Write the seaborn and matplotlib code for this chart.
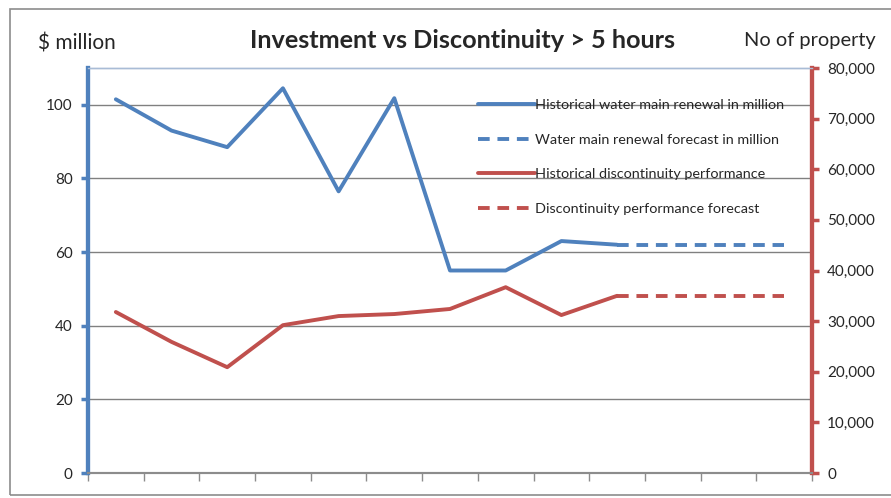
import matplotlib
matplotlib.use("Agg")
import matplotlib.pyplot as plt
import seaborn as sns
import numpy as np
from matplotlib.patches import Rectangle

# ----------------------------------------
# Data
# ----------------------------------------
years = list(range(13))                      # 13 unlabeled categories
hist_x = years[:10]
fcst_x = years[9:]

water_hist = [101.5, 93, 88.5, 104.5, 76.5, 101.8, 55, 55, 63, 62]
water_fcst = [62, 62, 62, 62]

disc_hist = [31800, 25900, 20900, 29200, 31000, 31400, 32400, 36700, 31200, 35000]
disc_fcst = [35000, 35000, 35000, 35000]

left_ticks = [0, 20, 40, 60, 80, 100]
right_ticks = list(range(0, 80001, 10000))

BLUE = "#4F81BD"
RED = "#C0504D"

sns.set_style("white")
plt.rcParams["font.family"] = ["Lato", "DejaVu Sans"]

fig = plt.figure(figsize=(8.91, 4.98), dpi=100)
ax = fig.add_axes([88 / 891, 25 / 498, 724 / 891, 405 / 498])
ax2 = ax.twinx()

# water main renewal ($ million) on the left axis
sns.lineplot(x=hist_x, y=water_hist, ax=ax, color=BLUE, lw=2.8,
             label="Historical water main renewal in million", legend=False)
sns.lineplot(x=fcst_x, y=water_fcst, ax=ax, color=BLUE, lw=2.8, ls=(0, (3, 2)),
             label="Water main renewal forecast in million", legend=False)

# discontinuity (no of property) on the right axis
sns.lineplot(x=hist_x, y=disc_hist, ax=ax2, color=RED, lw=2.8,
             label="Historical discontinuity performance", legend=False)
sns.lineplot(x=fcst_x, y=disc_fcst, ax=ax2, color=RED, lw=2.8, ls=(0, (3, 2)),
             label="Discontinuity performance forecast", legend=False)

ax.set_xlim(-0.5, 12.5)
ax.set_ylim(0, 110)
ax2.set_ylim(0, 80000)
ax.set_xticks(np.arange(-0.5, 13, 1))
ax.set_xticklabels([])
ax.set_yticks(left_ticks)
ax2.set_yticks(right_ticks)
ax2.set_yticklabels([f"{v:,}" for v in right_ticks])

ax.grid(axis="y", color="#808080", lw=1)
ax.set_axisbelow(True)

ax.tick_params(axis="x", direction="out", length=6, color="#8c8c8c", width=1, bottom=True)
ax.tick_params(axis="y", direction="out", length=5, color=BLUE, width=2.5, labelsize=11,
               left=True, pad=6)
ax2.tick_params(axis="y", direction="out", length=5, color=RED, width=2.5, labelsize=11,
                right=True, pad=6)

for a in (ax, ax2):
    a.spines["left"].set_color(BLUE)
    a.spines["left"].set_linewidth(3)
    a.spines["right"].set_color(RED)
    a.spines["right"].set_linewidth(3)
    a.spines["top"].set_color("#a9bcd6")
    a.spines["top"].set_linewidth(1)
    a.spines["bottom"].set_color("#8c8c8c")
    a.spines["bottom"].set_linewidth(1.5)
    a.set_xlabel("")
    a.set_ylabel("")

# legend combining both axes
h1, l1 = ax.get_legend_handles_labels()
h2, l2 = ax2.get_legend_handles_labels()
leg = ax2.legend(h1 + h2, l1 + l2, loc="upper left", bbox_to_anchor=(0.521, 0.955),
                 frameon=False, fontsize=10.4, handlelength=3.9, handletextpad=0.0,
                 labelspacing=1.55)

fig.text(463 / 891, 0.918, "Investment vs Discontinuity > 5 hours", ha="center", va="center",
         fontsize=18.2, fontweight="bold")
fig.text(38 / 891, 0.913, "$ million", ha="left", va="center", fontsize=15)
fig.text(876 / 891, 0.919, "No of property", ha="right", va="center", fontsize=14.4)

# chart area border
fig.patches.append(Rectangle((10 / 891, 3 / 498), 900 / 891, 486 / 498,
                             transform=fig.transFigure, fill=False,
                             edgecolor="#8c8c8c", lw=1.2))

fig.savefig("out.png", dpi=100)
